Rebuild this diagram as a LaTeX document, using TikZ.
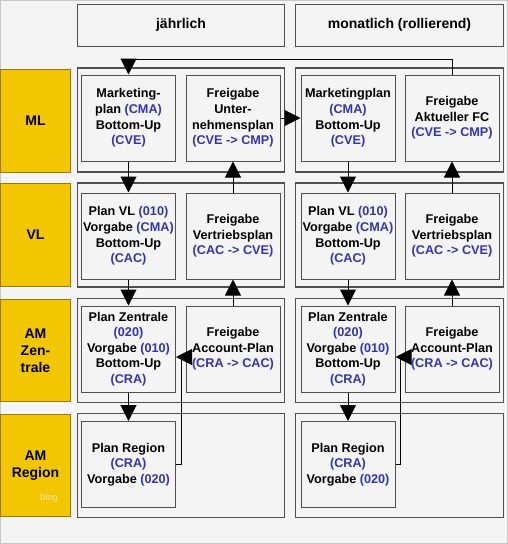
\documentclass[tikz,border=0pt]{standalone}
\usepackage{fontspec}
\setmainfont{Liberation Sans}
\usetikzlibrary{arrows.meta}
\definecolor{bgc}{RGB}{244,244,244}
\definecolor{cblue}{RGB}{52,52,176}
\definecolor{ylw}{RGB}{242,198,0}
\definecolor{ylwedge}{RGB}{150,120,20}
\definecolor{frame}{RGB}{80,80,80}
\definecolor{blogc}{RGB}{248,232,160}
\newcommand\codeb[1]{\textcolor{cblue}{#1}}
\tikzset{
  ibox/.style={draw=frame, fill=bgc, line width=0.75pt, minimum width=70.5pt, minimum height=64.5pt,
    inner sep=0pt, align=center, font=\fontsize{9.5}{11.7}\selectfont\bfseries},
  cont/.style={draw=frame, fill=bgc, line width=0.9pt, minimum width=155.5pt, minimum height=78pt, inner sep=0pt},
  hdr/.style={draw=frame, fill=bgc, line width=0.75pt, minimum width=155.5pt, minimum height=31.5pt,
    inner sep=0pt, font=\fontsize{10.5}{12}\selectfont\bfseries},
  lab/.style={draw=ylwedge, fill=ylw, line width=0.6pt, minimum width=53pt, minimum height=77pt,
    inner sep=0pt, align=center, font=\fontsize{10.5}{12.8}\selectfont\bfseries},
  arr/.style={draw=black, line width=0.75pt, -{Triangle[length=12pt,width=12pt]}},
}
\begin{document}
\begin{tikzpicture}[x=0.75pt,y=-0.75pt]
\useasboundingbox (0,0) rectangle (508,544);
\fill[bgc] (0,0) rectangle (508,544);
\draw[draw={rgb,255:red,200;green,200;blue,200}, line width=0.75pt] (0.5,0.5) rectangle (507.5,543.5);

% headers
\node[hdr] (h1) at (181,25) {jährlich};
\node[hdr] (h2) at (399.5,25) {monatlich (rollierend)};

% row labels
\node[lab] (l1) at (35.5,121) {ML};
\node[lab] (l2) at (35.5,235) {VL};
\node[lab] (l3) at (35.5,350.5) {AM\\Zen-\\trale};
\node[lab] (l4) at (35.5,465.5) {AM\\Region};
\node[font=\fontsize{7}{8}\selectfont, text=blogc, inner sep=0pt] (blog) at (49,498) {blog};

% containers
\node[cont] (c11) at (181,120) {};
\node[cont] (c12) at (399.5,120) {};
\node[cont] (c21) at (181,235) {};
\node[cont] (c22) at (399.5,235) {};
\node[cont] (c31) at (181,350.5) {};
\node[cont] (c32) at (399.5,350.5) {};
\node[cont] (c41) at (181,465.5) {};
\node[cont] (c42) at (399.5,465.5) {};

% left column (jährlich)
\node[ibox] (lA1) at (128.5,118) {Marketing-\\plan \codeb{(CMA)}\\Bottom-Up\\\codeb{(CVE)}};
\node[ibox] (lB1) at (233,118) {Freigabe\\Unter-\\nehmensplan\\\codeb{(CVE {-}> CMP)}};
\node[ibox] (lA2) at (128.5,236) {Plan VL \codeb{(010)}\\Vorgabe \codeb{(CMA)}\\Bottom-Up\\\codeb{(CAC)}};
\node[ibox] (lB2) at (233,236) {Freigabe\\Vertriebsplan\\\codeb{(CAC {-}> CVE)}};
\node[ibox] (lA3) at (128.5,349) {Plan Zentrale\\\codeb{(020)}\\Vorgabe \codeb{(010)}\\Bottom-Up\\\codeb{(CRA)}};
\node[ibox] (lB3) at (233,349) {Freigabe\\Account-Plan\\\codeb{(CRA {-}> CAC)}};
\node[ibox] (lA4) at (128.5,464.5) {Plan Region\\\codeb{(CRA)}\\Vorgabe \codeb{(020)}};

% right column (monatlich)
\node[ibox] (rA1) at (348,118) {Marketingplan\\\codeb{(CMA)}\\Bottom-Up\\\codeb{(CVE)}};
\node[ibox] (rB1) at (452,118) {Freigabe\\Aktueller FC\\\codeb{(CVE {-}> CMP)}};
\node[ibox] (rA2) at (348,236) {Plan VL \codeb{(010)}\\Vorgabe \codeb{(CMA)}\\Bottom-Up\\\codeb{(CAC)}};
\node[ibox] (rB2) at (452,236) {Freigabe\\Vertriebsplan\\\codeb{(CAC {-}> CVE)}};
\node[ibox] (rA3) at (348,349) {Plan Zentrale\\\codeb{(020)}\\Vorgabe \codeb{(010)}\\Bottom-Up\\\codeb{(CRA)}};
\node[ibox] (rB3) at (452,349) {Freigabe\\Account-Plan\\\codeb{(CRA {-}> CAC)}};
\node[ibox] (rA4) at (348,464.5) {Plan Region\\\codeb{(CRA)}\\Vorgabe \codeb{(020)}};

% helper coordinates
\coordinate (top) at (452,59);
\coordinate (lel) at (181,357);
\coordinate (rel) at (400,357);

% connectors
\draw[arr] (rB1.north) -- (rB1.north |- top) -| (lA1.north);
\draw[arr] (lA1) -- (lA2);
\draw[arr] (lA2) -- (lA3);
\draw[arr] (lA3) -- (lA4);
\draw[arr] (lA4.east) -| (lel) -- (lA3.east |- lel);
\draw[arr] (lB3) -- (lB2);
\draw[arr] (lB2) -- (lB1);
\draw[arr] (lB1) -- (rA1);
\draw[arr] (rA1) -- (rA2);
\draw[arr] (rA2) -- (rA3);
\draw[arr] (rA3) -- (rA4);
\draw[arr] (rA4.east) -| (rel) -- (rA3.east |- rel);
\draw[arr] (rB3) -- (rB2);
\draw[arr] (rB2) -- (rB1);
\end{tikzpicture}
\end{document}
